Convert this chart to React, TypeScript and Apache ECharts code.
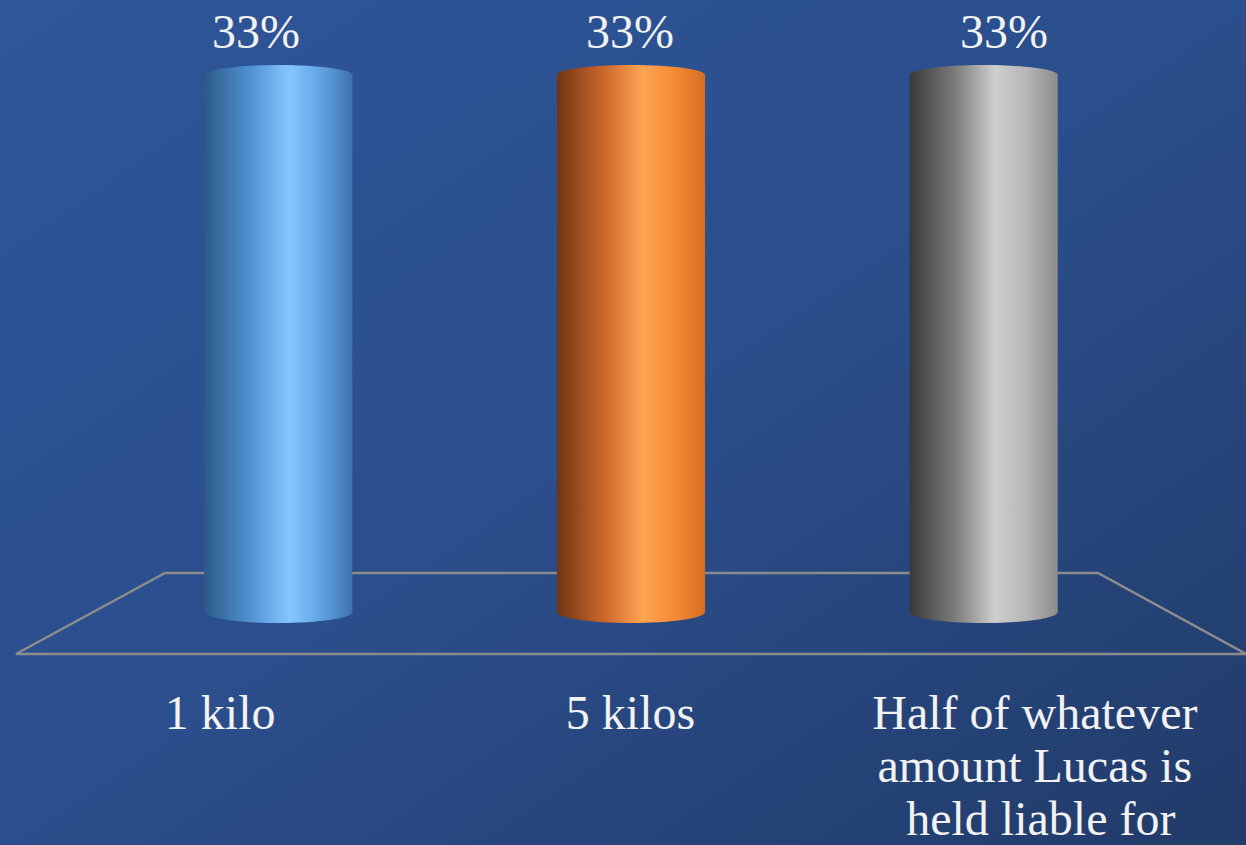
import React, { useEffect, useRef } from "react";
import * as echarts from "echarts";

const categories = ["1 kilo", "5 kilos", "Half of whatever amount Lucas is held liable for"];
const percentValues = [33, 33, 33];
const cylinderColors = [
  ["#2c5a88", "#4f8fd0", "#86c6ff", "#5ea0e0", "#3c72ac"],
  ["#6e3512", "#c8642a", "#ffa452", "#f58a36", "#d66e22"],
  ["#383838", "#7a7a7a", "#cfcfcf", "#b4b4b4", "#8c8c8c"],
];

const FONT = "'Liberation Serif', 'DejaVu Serif', serif";

export default function App() {
  const ref = useRef<HTMLDivElement>(null);
  useEffect(() => {
    document.body.style.margin = "0";
    const chart = echarts.init(ref.current!, null, { renderer: "svg" });
    const grad = (c: string[]) =>
      new echarts.graphic.LinearGradient(0, 0, 1, 0, [
        { offset: 0, color: c[0] },
        { offset: 0.3, color: c[1] },
        { offset: 0.58, color: c[2] },
        { offset: 0.8, color: c[3] },
        { offset: 1, color: c[4] },
      ]);
    const option: any = {
      animation: false,
      backgroundColor: new echarts.graphic.LinearGradient(0, 0, 1, 1, [
        { offset: 0, color: "#2f5699" },
        { offset: 0.5, color: "#2b4e8c" },
        { offset: 1, color: "#213b69" },
      ]),
      graphic: [
        {
          type: "polygon",
          z: -1,
          shape: { points: [[165, 573], [1098, 573], [1246, 654], [16, 654]] },
          style: { fill: "none", stroke: "#8c8c8c", lineWidth: 2.5 },
        },
      ],
      grid: [
        { left: 15, width: 1232, top: 100, bottom: 845 - 655 },
        { left: 102, width: 1058, top: 42.5, bottom: 845 - 612 },
        { left: 69, width: 1122, top: 42.5, bottom: 845 - 612 },
      ],
      xAxis: [
        {
          type: "category",
          gridIndex: 0,
          data: categories,
          axisLine: { show: false },
          axisTick: { show: false },
          axisLabel: {
            interval: 0,
            color: "#f2f2f2",
            fontFamily: FONT,
            fontSize: 48,
            lineHeight: 53,
            margin: 35,
            width: 360,
            overflow: "break",
            verticalAlign: "top",
          },
        },
        { type: "category", gridIndex: 1, data: categories, show: false },
        { type: "category", gridIndex: 2, data: categories, show: false },
      ],
      yAxis: [
        { type: "value", gridIndex: 0, show: false, min: 0, max: 35 },
        { type: "value", gridIndex: 1, show: false, min: 0, max: 35 },
        { type: "value", gridIndex: 2, show: false, min: 0, max: 35 },
      ],
      series: [
        {
          type: "custom",
          xAxisIndex: 1,
          yAxisIndex: 1,
          data: percentValues.map((v, i) => [i, v]),
          renderItem: (params: any, api: any) => {
            const idx = api.value(0);
            const top = api.coord([idx, api.value(1)]);
            const bottom = api.coord([idx, 0]);
            const band = api.size([1, 0])[0];
            const w = band * 0.42;
            const ry = 11;
            const fill = grad(cylinderColors[params.dataIndex]);
            return {
              type: "group",
              children: [
                {
                  type: "ellipse",
                  shape: { cx: bottom[0], cy: bottom[1], rx: w / 2, ry },
                  style: { fill },
                },
                {
                  type: "rect",
                  shape: { x: bottom[0] - w / 2, y: top[1], width: w, height: bottom[1] - top[1] },
                  style: { fill },
                },
                {
                  type: "ellipse",
                  shape: { cx: top[0], cy: top[1], rx: w / 2, ry: ry - 1 },
                  style: { fill },
                },
              ],
            };
          },
        },
        {
          type: "custom",
          xAxisIndex: 2,
          yAxisIndex: 2,
          data: percentValues.map((v, i) => [i, v]),
          renderItem: (params: any, api: any) => {
            const p = api.coord([api.value(0), api.value(1)]);
            return {
              type: "text",
              style: {
                x: p[0],
                y: p[1] - 44,
                text: api.value(1) + "%",
                fill: "#f2f2f2",
                font: `48px ${FONT}`,
                align: "center",
                verticalAlign: "middle",
              },
            };
          },
        },
      ],
    };
    chart.setOption(option);
    return () => chart.dispose();
  }, []);
  return <div ref={ref} style={{ position: "fixed", left: 0, top: 0, width: 1246, height: 845 }} />;
}
